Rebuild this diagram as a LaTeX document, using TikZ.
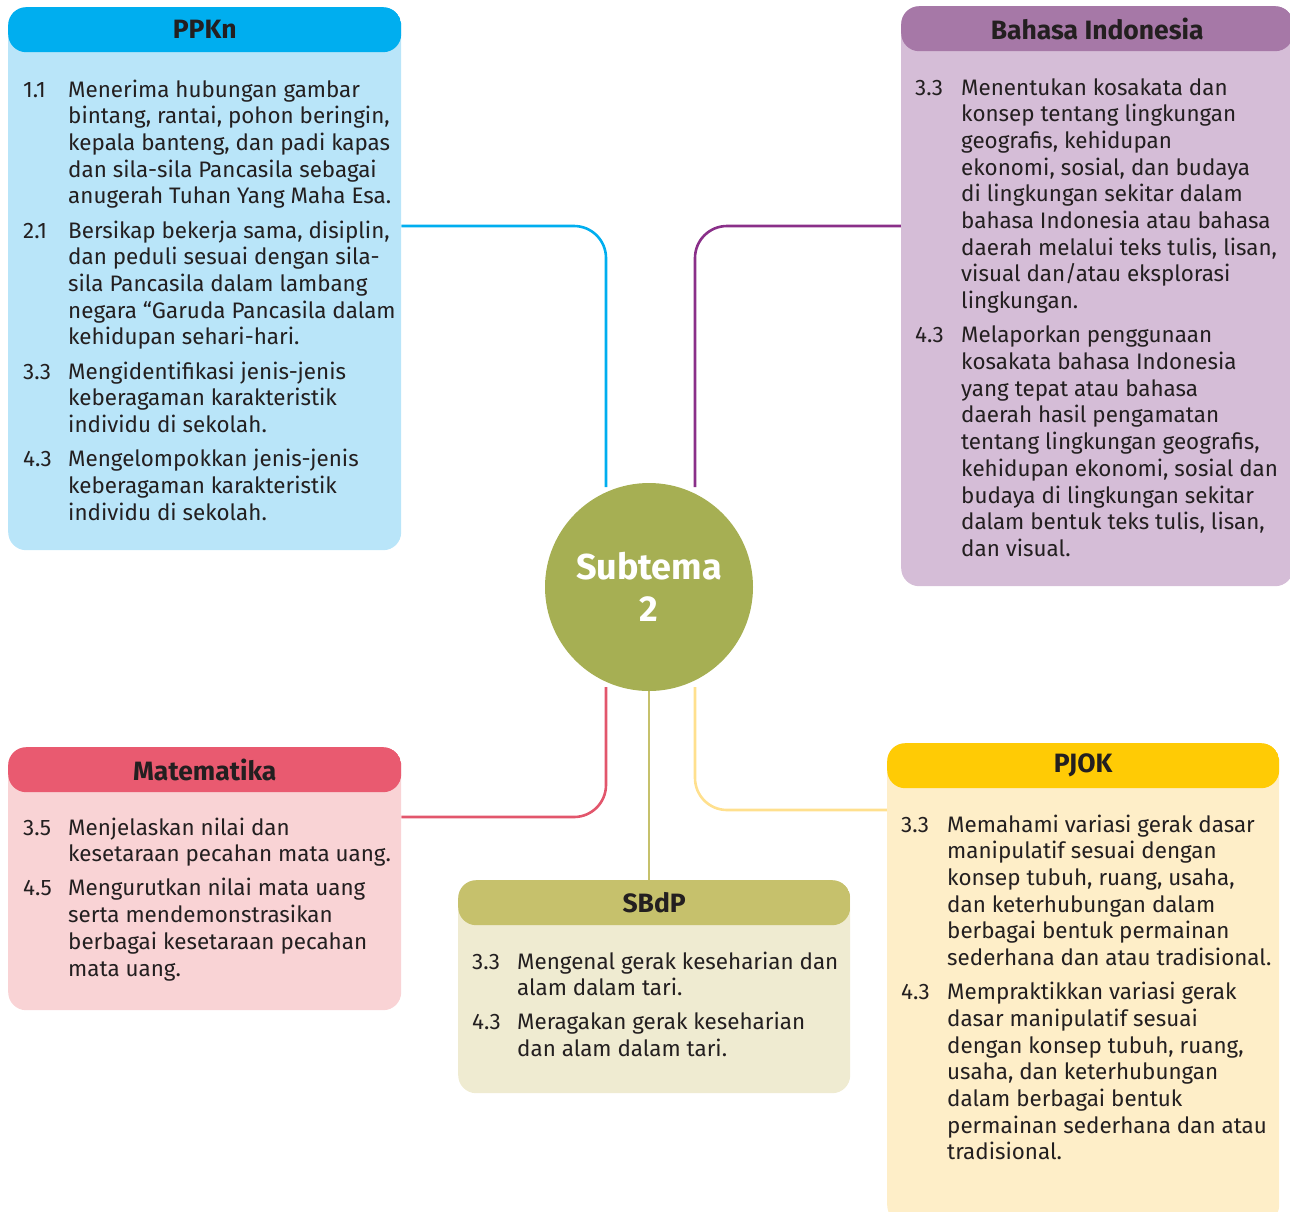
\documentclass[tikz,border=0pt]{standalone}
\usepackage{fontspec}
\setmainfont{Fira Sans}
\usetikzlibrary{backgrounds}
\definecolor{txt}{HTML}{231F20}
\definecolor{blueH}{HTML}{00AEEF}\definecolor{blueB}{HTML}{B9E5F9}
\definecolor{purH}{HTML}{A678A7}\definecolor{purB}{HTML}{D5BDD7}\definecolor{purL}{HTML}{8A2F89}
\definecolor{redH}{HTML}{E95A70}\definecolor{redB}{HTML}{F9D3D5}\definecolor{redL}{HTML}{E2566C}
\definecolor{olH}{HTML}{C6C16C}\definecolor{olB}{HTML}{EFEBD1}
\definecolor{yeH}{HTML}{FFCB05}\definecolor{yeB}{HTML}{FEEEC8}\definecolor{yeL}{HTML}{FFE08E}
\definecolor{circ}{HTML}{A6AF53}
\newcommand{\bodyfont}{\fontsize{22.4}{26.7}\selectfont}
\newcommand{\gapp}{\\[7.5pt]}
\begin{document}
\begin{tikzpicture}[x=1pt,y=-1pt,
  panel/.style n args={2}{fill=#2, rounded corners=18pt, anchor=north west, inner sep=0pt,
    path picture={\fill[#1] (path picture bounding box.north west) rectangle ([yshift=-45pt]path picture bounding box.north east);}},
  head/.style={font=\fontsize{26.5}{30}\selectfont\bfseries, text=txt, inner sep=0pt},
  body/.style={anchor=base west, inner sep=0pt, text=txt, font=\bodyfont},
  conn/.style={line width=2.6pt, rounded corners=32pt}]
\useasboundingbox (0,0) rectangle (1290,1211);
% panels
\node[panel={blueH}{blueB}, minimum width=393pt, minimum height=543pt] (ppkn) at (8,7) {};
\node[panel={purH}{purB}, minimum width=392pt, minimum height=580pt] (bind) at (901,6) {};
\node[panel={redH}{redB}, minimum width=393pt, minimum height=263pt] (mtk) at (8,747) {};
\node[panel={olH}{olB}, minimum width=392pt, minimum height=213pt] (sbdp) at (458,880) {};
\node[panel={yeH}{yeB}, minimum width=392pt, minimum height=480pt] (pjok) at (887,743) {};
% circle
\node[circle, fill=circ, minimum size=208pt, inner sep=0pt, text=white,
  font=\fontsize{36}{42}\selectfont\bfseries, align=center,
  text depth=-6pt] (sub) at (649,587) {Subtema\\2};
% connectors (behind circle)
\begin{scope}[on background layer]
\draw[conn, blueH] ([yshift=-219pt]ppkn.north east) -| ([xshift=-43pt,yshift=100pt]sub.center);
\draw[conn, purL] ([yshift=-220pt]bind.north west) -| ([xshift=46pt,yshift=100pt]sub.center);
\draw[conn, redL] ([yshift=-70pt]mtk.north east) -| ([xshift=-43pt,yshift=-100pt]sub.center);
\draw[conn, yeL] ([yshift=-67pt]pjok.north west) -| ([xshift=46pt,yshift=-100pt]sub.center);
\draw[line width=2.6pt, olH] (sub.center) -- (sub.center |- sbdp.north);
\end{scope}
% headers
\node[head] (hppkn) at ([yshift=-22.5pt]ppkn.north) {PPKn};
\node[head] (hbind) at ([yshift=-23pt]bind.north) {Bahasa Indonesia};
\node[head] (hmtk) at ([yshift=-22.5pt]mtk.north) {Matematika};
\node[head] (hsbdp) at ([yshift=-22.5pt]sbdp.north) {SBdP};
\node[head] (hpjok) at ([yshift=-22.5pt]pjok.north) {PJOK};
% bodies
\node[body] (tppkn) at (23,97) {\begin{tabular}[t]{@{}p{45pt}@{}l@{}}
1.1 & Menerima hubungan gambar\\ & bintang, rantai, pohon beringin,\\ & kepala banteng, dan padi kapas\\ & dan sila-sila Pancasila sebagai\\ & anugerah Tuhan Yang Maha Esa.\gapp
2.1 & Bersikap bekerja sama, disiplin,\\ & dan peduli sesuai dengan sila-\\ & sila Pancasila dalam lambang\\ & negara “Garuda Pancasila dalam\\ & kehidupan sehari-hari.\gapp
3.3 & Mengidentifikasi jenis-jenis\\ & keberagaman karakteristik\\ & individu di sekolah.\gapp
4.3 & Mengelompokkan jenis-jenis\\ & keberagaman karakteristik\\ & individu di sekolah.
\end{tabular}};
\node[body] (tbind) at (915,95) {\begin{tabular}[t]{@{}p{46pt}@{}l@{}}
3.3 & Menentukan kosakata dan\\ & konsep tentang lingkungan\\ & geografis, kehidupan\\ & ekonomi, sosial, dan budaya\\ & di lingkungan sekitar dalam\\ & bahasa Indonesia atau bahasa\\ & daerah melalui teks tulis, lisan,\\ & visual dan/atau eksplorasi\\ & lingkungan.\gapp
4.3 & Melaporkan penggunaan\\ & kosakata bahasa Indonesia\\ & yang tepat atau bahasa\\ & daerah hasil pengamatan\\ & tentang lingkungan geografis,\\ & kehidupan ekonomi, sosial dan\\ & budaya di lingkungan sekitar\\ & dalam bentuk teks tulis, lisan,\\ & dan visual.
\end{tabular}};
\node[body] (tmtk) at (23,835) {\begin{tabular}[t]{@{}p{45pt}@{}l@{}}
3.5 & Menjelaskan nilai dan\\ & kesetaraan pecahan mata uang.\gapp
4.5 & Mengurutkan nilai mata uang\\ & serta mendemonstrasikan\\ & berbagai kesetaraan pecahan\\ & mata uang.
\end{tabular}};
\node[body] (tsbdp) at (472,969) {\begin{tabular}[t]{@{}p{45pt}@{}l@{}}
3.3 & Mengenal gerak keseharian dan\\ & alam dalam tari.\gapp
4.3 & Meragakan gerak keseharian\\ & dan alam dalam tari.
\end{tabular}};
\node[body] (tpjok) at (901,832) {\begin{tabular}[t]{@{}p{46pt}@{}l@{}}
3.3 & Memahami variasi gerak dasar\\ & manipulatif sesuai dengan\\ & konsep tubuh, ruang, usaha,\\ & dan keterhubungan dalam\\ & berbagai bentuk permainan\\ & sederhana dan atau tradisional.\gapp
4.3 & Mempraktikkan variasi gerak\\ & dasar manipulatif sesuai\\ & dengan konsep tubuh, ruang,\\ & usaha, dan keterhubungan\\ & dalam berbagai bentuk\\ & permainan sederhana dan atau\\ & tradisional.
\end{tabular}};
\end{tikzpicture}
\end{document}
